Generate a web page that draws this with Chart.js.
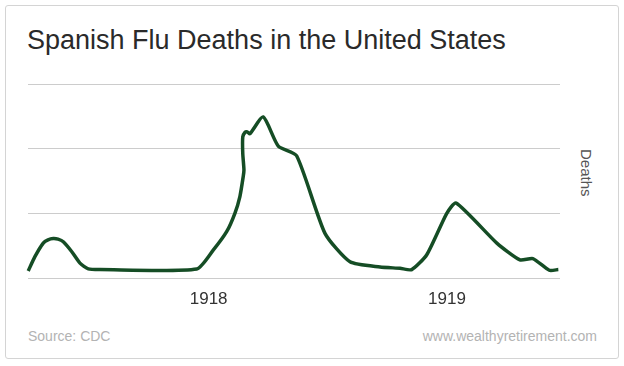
<!DOCTYPE html>
<html>
<head>
<meta charset="utf-8">
<title>Spanish Flu Deaths in the United States</title>
<script src="https://cdn.jsdelivr.net/npm/chart.js@4"></script>
<style>
  html, body { margin:0; padding:0; background:#fff; }
  body { width:624px; height:366px; position:relative; overflow:hidden; font-family:"Liberation Sans", Arial, sans-serif; }
  .frame { position:absolute; left:5px; top:5px; width:612px; height:352px; border:1px solid #d4d4d4; border-radius:3px; }
  .title { position:absolute; left:27px; top:25px; font-size:27px; color:#2a2a2a; white-space:nowrap; }
  .ytitle { position:absolute; left:578px; top:149px; font-size:15px; color:#555; writing-mode:vertical-rl; }
  .foot { position:absolute; top:328px; font-size:14px; color:#b3b3b3; white-space:nowrap; }
  #chart { position:absolute; left:0; top:0; }
</style>
</head>
<body>
<div class="frame"></div>
<div class="title">Spanish Flu Deaths in the United States</div>
<div class="ytitle">Deaths</div>
<div class="foot" style="left:28px;">Source: CDC</div>
<div class="foot" style="right:27px;">www.wealthyretirement.com</div>
<canvas id="chart" width="624" height="366"></canvas>
<script>
// 时间轴（小数年份），按图上曲线逐点读出
const weeks = [
  1917.243, 1917.271, 1917.306, 1917.326, 1917.348, 1917.368, 1917.390, 1917.425, 1917.460,
  1917.495, 1917.544, 1917.950, 1918.019, 1918.076, 1918.110, 1918.131, 1918.145, 1918.148,
  1918.143, 1918.143, 1918.152, 1918.162, 1918.173, 1918.229, 1918.292, 1918.369, 1918.488,
  1918.593, 1918.719, 1918.803, 1918.852, 1918.915, 1918.999, 1919.038, 1919.209, 1919.306,
  1919.360, 1919.429, 1919.467
];
// 死亡人数（相对刻度，网格每格 = 1）
const deaths = [
  0.11, 0.33, 0.54, 0.59, 0.61, 0.60, 0.56, 0.41, 0.23,
  0.14, 0.13, 0.14, 0.43, 0.72, 1.00, 1.26, 1.57, 1.67,
  1.93, 2.18, 2.25, 2.26, 2.23, 2.49, 2.04, 1.89, 0.69,
  0.25, 0.17, 0.15, 0.13, 0.36, 1.00, 1.16, 0.54, 0.28,
  0.30, 0.12, 0.13
];
const yearTicks = [1918, 1919];
const yearLabels = ['1918', '1919'];

const points = weeks.map((w, i) => ({ x: w, y: deaths[i] }));

new Chart(document.getElementById('chart').getContext('2d'), {
  type: 'line',
  data: {
    datasets: [{
      label: 'Deaths',
      data: points,
      borderColor: '#154d25',
      borderWidth: 3.5,
      borderJoinStyle: 'round',
      pointRadius: 0,
      tension: 0.2,
      fill: false,
      clip: false
    }]
  },
  options: {
    responsive: false,
    animation: false,
    events: [],
    layout: { padding: { left: 28, right: 64, top: 84, bottom: 48 } },
    plugins: { legend: { display: false }, tooltip: { enabled: false } },
    scales: {
      x: {
        type: 'linear',
        min: 1917.242,
        max: 1919.474,
        afterFit: s => { s.height = 40; },
        afterBuildTicks: s => { s.ticks = yearTicks.map(v => ({ value: v })); },
        grid: { display: false, drawTicks: false },
        border: { display: false },
        ticks: {
          padding: 11,
          color: '#333',
          font: { family: '"Liberation Sans", Arial, sans-serif', size: 17 },
          callback: v => yearLabels[yearTicks.indexOf(v)] || ''
        }
      },
      y: {
        min: 0,
        max: 3,
        afterFit: s => { s.width = 0; },
        ticks: { display: false, stepSize: 1 },
        grid: { color: '#cccccc', lineWidth: 1, drawTicks: false },
        border: { display: false }
      }
    }
  }
});
</script>
</body>
</html>
